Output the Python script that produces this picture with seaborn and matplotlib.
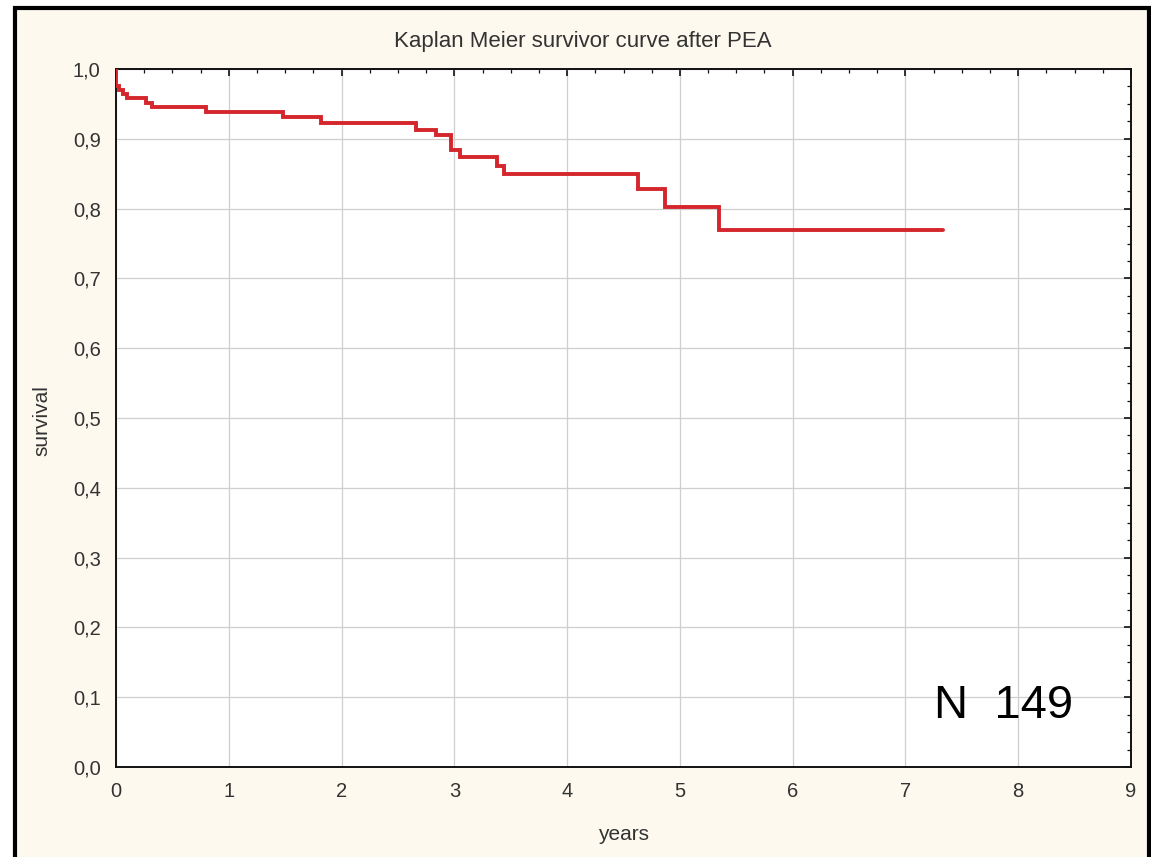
import matplotlib
matplotlib.use("Agg")
import matplotlib.pyplot as plt
import matplotlib.patches as mpatches
from matplotlib.ticker import MultipleLocator, FuncFormatter
import seaborn as sns
import pandas as pd

# Kaplan-Meier step data
years = [0.0, 0.003, 0.03, 0.06, 0.095, 0.27, 0.32, 0.80, 1.48, 1.82,
         2.66, 2.84, 2.97, 3.05, 3.38, 3.44, 4.63, 4.87, 5.35, 7.33]
survival = [1.000, 0.976, 0.970, 0.964, 0.958, 0.952, 0.946, 0.938, 0.931, 0.922,
            0.913, 0.905, 0.884, 0.874, 0.861, 0.850, 0.828, 0.803, 0.770, 0.770]
x_ticks = [0, 1, 2, 3, 4, 5, 6, 7, 8, 9]
y_ticks = [0.0, 0.1, 0.2, 0.3, 0.4, 0.5, 0.6, 0.7, 0.8, 0.9, 1.0]
title = "Kaplan Meier survivor curve after PEA"
n_text = "N  149"

df = pd.DataFrame({"years": years, "survival": survival})

sns.set_style("white")
plt.rcParams["font.family"] = ["Liberation Sans", "DejaVu Sans"]

W, H = 1151, 857
fig = plt.figure(figsize=(W / 100, H / 100), dpi=100, facecolor="white")

# cream panel with black frame (bottom cut off)
frame = mpatches.Rectangle((15 / W, -0.05), (1149 - 15) / W, 1 - 8 / H + 0.05,
                           transform=fig.transFigure, facecolor="#FDF9EE",
                           edgecolor="black", linewidth=3.0, zorder=-10)
fig.patches.append(frame)

ax = fig.add_axes([116 / W, 1 - 767 / H, (1131 - 116) / W, (767 - 69) / H])
ax.set_facecolor("white")

sns.lineplot(data=df, x="years", y="survival", ax=ax, estimator=None,
             drawstyle="steps-post", color="#D4262C", linewidth=2.8,
             solid_joinstyle="miter", zorder=5)

ax.set_xlim(0, 9)
ax.set_ylim(0, 1)
ax.set_xticks(x_ticks)
ax.set_yticks(y_ticks)
ax.xaxis.set_minor_locator(MultipleLocator(0.25))
ax.yaxis.set_minor_locator(MultipleLocator(0.025))
ax.yaxis.set_major_formatter(FuncFormatter(lambda v, p: f"{v:.1f}".replace(".", ",")))
ax.xaxis.set_major_formatter(FuncFormatter(lambda v, p: f"{int(round(v))}"))

ax.grid(True, which="major", color="#CFCFCF", linewidth=0.9)
ax.set_axisbelow(True)

for s in ax.spines.values():
    s.set_visible(True)
    s.set_color("#111111")
    s.set_linewidth(1.4)

ax.tick_params(which="both", direction="in", top=True, right=True,
               color="#111111")
ax.tick_params(which="major", length=5, width=1.2, labelsize=14.5,
               labelcolor="#333333", pad=11)
ax.tick_params(which="minor", length=3, width=0.9)

ax.set_xlabel("years", fontsize=15, color="#333333")
ax.set_ylabel("survival", fontsize=15, color="#333333")
ax.xaxis.set_label_coords(0.5, (767 - 834) / 698)
ax.xaxis.label.set_va("center")
ax.yaxis.set_label_coords((42 - 116) / 1015, 0.497)
ax.yaxis.label.set_va("center")

fig.text(583 / W, 1 - 41 / H, title, ha="center", va="center",
         fontsize=16, color="#333333")

ax.text((1004 - 116) / 1015, (767 - 706) / 698, n_text, ha="center",
        va="center", fontsize=34, color="black", transform=ax.transAxes,
        zorder=6)

fig.savefig("out.png", dpi=100, facecolor=fig.get_facecolor())
